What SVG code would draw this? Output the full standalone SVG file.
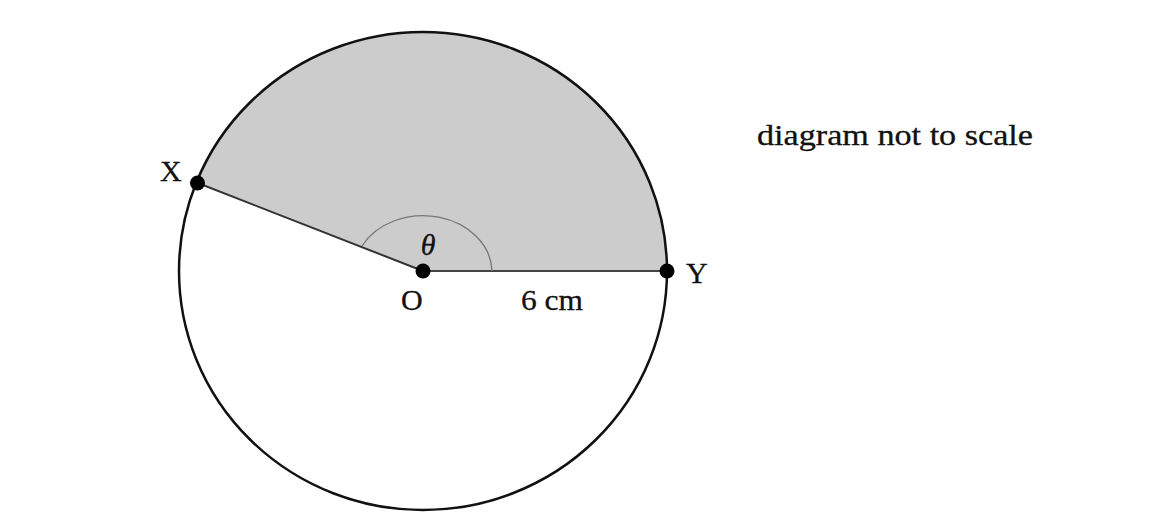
<svg xmlns="http://www.w3.org/2000/svg" width="1151" height="529" viewBox="0 0 1151 529">
<style>
.lbl{font-family:"Liberation Serif","DejaVu Serif",serif;font-size:30px;fill:#111;stroke:#111;stroke-width:0.3}
.dot{fill:#000}
</style>
<rect width="1151" height="529" fill="#ffffff"/>
<g id="connectors">
<path id="sector" d="M423 271 L667 271 A244 239 0 0 0 196.5 182.5 Z" fill="#cccccc" stroke="none"/>
<ellipse id="circle" cx="423" cy="271" rx="244" ry="239" fill="none" stroke="#111" stroke-width="2.5"/>
<line x1="423" y1="271" x2="667" y2="271" stroke="#444" stroke-width="2.2"/>
<line x1="423" y1="271" x2="196.5" y2="182.5" stroke="#333" stroke-width="2"/>
<path id="angle" d="M492 271 A69 57 0 0 0 362 246" fill="none" stroke="#777" stroke-width="1.3"/>
</g>
<g id="node-X"><circle class="dot" cx="197.5" cy="183" r="7.5"/><text class="lbl" x="160" y="181">X</text></g>
<g id="node-O"><circle class="dot" cx="423" cy="271" r="7.5"/><text class="lbl" x="401" y="310">O</text></g>
<g id="node-Y"><circle class="dot" cx="667" cy="271" r="7.5"/><text class="lbl" x="686" y="283">Y</text></g>
<g id="theta"><text class="lbl" x="428" y="255" text-anchor="middle" font-style="italic">θ</text></g>
<g id="radius-label"><text class="lbl" x="521" y="310" textLength="62" lengthAdjust="spacingAndGlyphs">6 cm</text></g>
<g id="note"><text class="lbl" x="757" y="145" textLength="276" lengthAdjust="spacingAndGlyphs">diagram not to scale</text></g>
</svg>
